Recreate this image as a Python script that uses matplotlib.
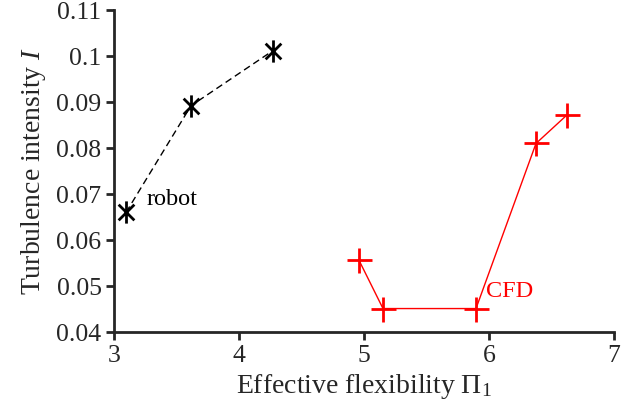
import matplotlib
matplotlib.use("Agg")
import matplotlib.pyplot as plt
from matplotlib.path import Path

robot_x = [3.096, 3.616, 4.272]
robot_y = [0.0660, 0.0892, 0.1012]
cfd_x = [4.96, 5.152, 5.896, 6.376, 6.624]
cfd_y = [0.0556, 0.0451, 0.0451, 0.0810, 0.0872]
xticks = [3, 4, 5, 6, 7]
yticks = [0.04, 0.05, 0.06, 0.07, 0.08, 0.09, 0.1, 0.11]
ytick_labels = ["0.04", "0.05", "0.06", "0.07", "0.08", "0.09", "0.1", "0.11"]

plt.rcParams['font.family'] = ['Liberation Serif', 'DejaVu Serif']
plt.rcParams['mathtext.fontset'] = 'custom'
plt.rcParams['mathtext.rm'] = 'Liberation Serif'
plt.rcParams['mathtext.it'] = 'Liberation Serif:italic'

# MATLAB-style asterisk: vertical bar plus an x
d = 0.7071
star = Path([(0, -1), (0, 1), (-d, -d), (d, d), (-d, d), (d, -d)],
            [Path.MOVETO, Path.LINETO, Path.MOVETO, Path.LINETO, Path.MOVETO, Path.LINETO])

fig = plt.figure(figsize=(6.21, 4.04), dpi=100)
ax = fig.add_axes([0.1836, 0.1782, 0.8051, 0.7968])
tc = '#262626'
ax.plot(robot_x, robot_y, color='black', linestyle=(0, (5, 3)), linewidth=1.0, zorder=2)
ax.plot(robot_x, robot_y, linestyle='none', marker=star, markersize=16,
        markeredgewidth=2.0, color='black', zorder=3)
ax.plot(cfd_x, cfd_y, color='red', linewidth=1.0, marker='+', markersize=18,
        markeredgewidth=2.0)
ax.text(3.26, 0.0688, 'robot', fontsize=17.5, color='black', ha='left', va='center')
ax.text(5.98, 0.0488, 'CFD', fontsize=17.5, color='red', ha='left', va='center')

ax.set_xlim(3, 7)
ax.set_ylim(0.04, 0.11)
ax.set_xticks(xticks)
ax.set_yticks(yticks)
ax.set_yticklabels(ytick_labels)
for s in ['top', 'right']:
    ax.spines[s].set_visible(False)
for s in ['left', 'bottom']:
    ax.spines[s].set_color(tc)
    ax.spines[s].set_linewidth(2.0)
ax.tick_params(direction='out', length=6, width=2, colors=tc, labelsize=18.5,
               labelcolor=tc, pad=3)
ax.set_xlabel(r'Effective flexibility $\Pi_1$', fontsize=20, color=tc, labelpad=4)
ax.set_ylabel(r'Turbulence intensity $I$', fontsize=20, color=tc, labelpad=6)
fig.savefig('out.png', dpi=100)
